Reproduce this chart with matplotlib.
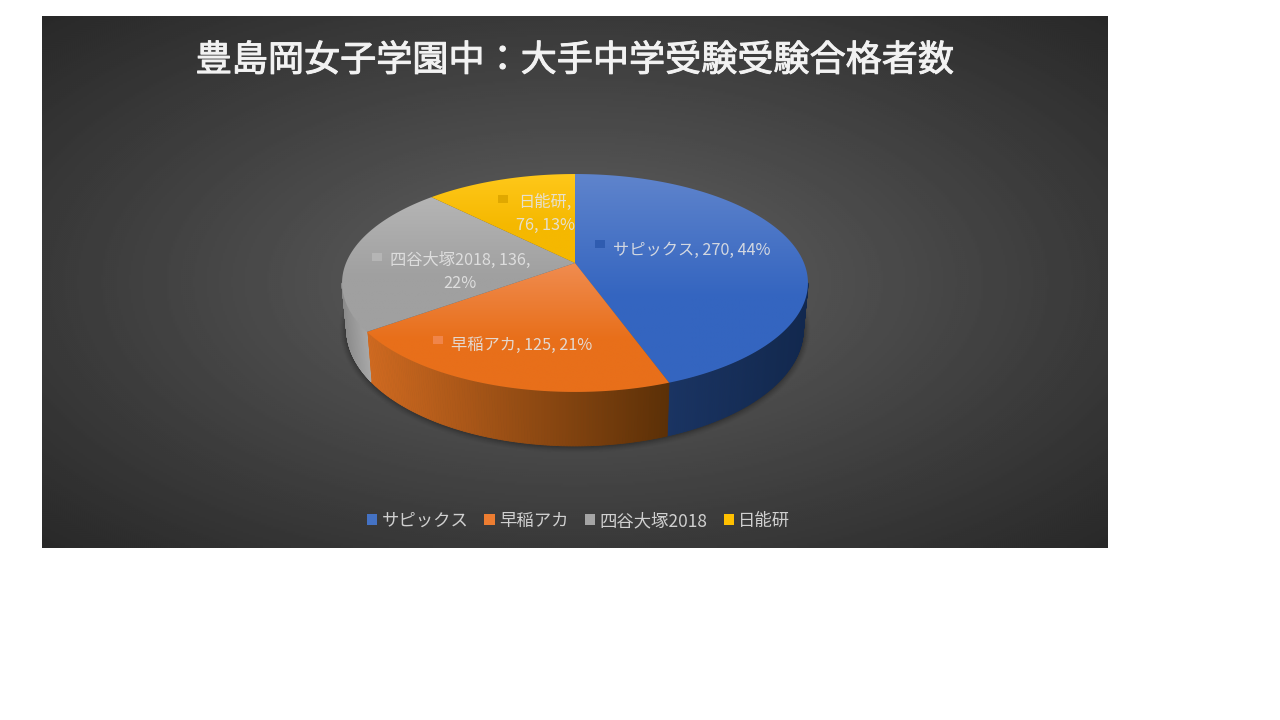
"""
Plots the 3D-looking pie of juku pass counts for Toshimagaoka Joshi Gakuen.
"""


import matplotlib
matplotlib.use('Agg')

import matplotlib.patheffects as path_effects
import matplotlib.pyplot as plt
from matplotlib.patches import Patch, Polygon, Rectangle
import numpy as np


TITLE = '豊島岡女子学園中：大手中学受験受験合格者数'
NAMES = ['サピックス', '早稲アカ', '四谷大塚2018', '日能研']
VALUES = [270, 125, 136, 76]
LABELS = ['サピックス, 270, 44%', '早稲アカ, 125, 21%',
          '四谷大塚2018, 136,\n22%', '日能研,\n76, 13%']

COLORS = ['#4472c4', '#ed7d31', '#a5a5a5', '#ffc000']
TOP_LIGHT = ['#5f84cc', '#f08c50', '#b5b5b5', '#ffc81a']
TOP_DARK = ['#3465c0', '#e86f1a', '#a0a0a0', '#f5b800']
WALL_LEFT = ['#1a3463', '#d06a20', '#8c8c8c', '#c79500']
WALL_RIGHT = ['#12284e', '#5c3007', '#a8a8a8', '#7a5c00']

LABEL_POS = [(692, 250), (522, 345), (460, 272), (545, 214)]
KEY_POS = [(600, 244), (438, 340), (377, 257), (503, 199)]
KEY_COLORS = ['#2f5cb0', '#f0854a', '#b5b5b5', '#e0a800']

# Pie geometry in pixels. The top face is a circle seen in perspective.
CX, CY = 575, 263
A, B, P = 229, 105.3, 0.1834
DEPTH = 54
BOTTOM_WIDTH = .98
DEPTH_SLOPE = .07

FONTS = ['Noto Sans CJK JP', 'DejaVu Sans']


def main():

    plt.rcParams['font.family'] = FONTS

    fig = plt.figure(figsize=(12.8, 7.2), dpi=100)
    ax = fig.add_axes([0, 0, 1, 1])
    ax.set_xlim(0, 1280)
    ax.set_ylim(720, 0)
    ax.axis('off')

    draw_background(ax)
    draw_pie(ax)

    title = ax.text(575, 61, TITLE, color='#f2f2f2', fontsize=26,
                    ha='center', va='center')
    title.set_path_effects([
        path_effects.withStroke(linewidth=.7, foreground='#f2f2f2')])

    for label, pos in zip(LABELS, LABEL_POS):
        ax.text(pos[0], pos[1], label, color='#e4e4e4', fontsize=11.7,
                ha='center', va='center', linespacing=1.45, alpha=.9,
                zorder=5)

    for pos, color in zip(KEY_POS, KEY_COLORS):
        ax.add_patch(Rectangle((pos[0] - 5, pos[1] - 4), 10, 8, color=color,
                               lw=0, zorder=4))

    handles = [Patch(color=c, lw=0) for c in COLORS]
    ax.legend(handles, NAMES, loc='center', bbox_to_anchor=(578.5, 521),
              bbox_transform=ax.transData, ncol=4, frameon=False,
              fontsize=12.5, labelcolor='#d0d0d0', handlelength=.6,
              handleheight=.6, handletextpad=.25, columnspacing=.93)

    fig.savefig('out.png', dpi=100)


def draw_background(ax):

    x0, x1, y0, y1 = 42, 1108, 16, 548
    x, y = np.meshgrid(np.linspace(x0, x1, 533), np.linspace(y0, y1, 266))
    r = np.hypot((x - 575) / 533, (y - 282) / 266) / np.sqrt(2)
    shade = .40 - .24 * np.clip(r, 0, 1) ** .9
    ax.imshow(shade, extent=(x0, x1, y1, y0), cmap='gray', vmin=0, vmax=1,
              aspect='auto', interpolation='bilinear', zorder=0)
    ax.set_xlim(0, 1280)
    ax.set_ylim(720, 0)


def project(angles):
    """Maps clockwise angles from the top of the pie to pixel coordinates."""

    u, v = np.sin(angles), np.cos(angles)
    w = 1 + P * v
    return CX + A * u / w, CY - B * v / w


def project_bottom(x, y):
    """Moves points on the top rim down to the narrower bottom rim."""

    return (CX + (x - CX) * BOTTOM_WIDTH,
            y + DEPTH + DEPTH_SLOPE * (y - 392))


def draw_pie(ax):

    fractions = np.array(VALUES) / sum(VALUES)
    edges = np.concatenate([[0], np.cumsum(fractions)]) * 2 * np.pi

    draw_shadow(ax)

    # Side wall, only the part of the rim that faces the viewer.
    theta = np.linspace(0, 2 * np.pi, 721)
    xs, ys = project(theta)
    right = theta[np.argmax(xs)]
    left = theta[np.argmin(xs)]

    for i in range(len(VALUES)):
        start = max(edges[i], right)
        end = min(edges[i + 1], left)
        if start >= end:
            continue
        draw_wall(ax, start, end, WALL_LEFT[i], WALL_RIGHT[i])

    for i in range(len(VALUES)):
        t = np.linspace(edges[i], edges[i + 1], 200)
        x, y = project(t)
        points = np.column_stack([np.r_[CX, x], np.r_[CY, y]])
        draw_top_face(ax, points, TOP_LIGHT[i], TOP_DARK[i])


def draw_shadow(ax):

    theta = np.linspace(.3 * np.pi, 1.7 * np.pi, 361)
    x, y = project_bottom(*project(theta))
    for width, alpha in zip(range(14, 1, -2), np.linspace(.02, .07, 7)):
        ax.plot(x, y, color='black', lw=width * .72, alpha=alpha,
                zorder=1, solid_joinstyle='round')


def draw_wall(ax, start, end, left_color, right_color):

    left_rgb = np.array(matplotlib.colors.to_rgb(left_color))
    right_rgb = np.array(matplotlib.colors.to_rgb(right_color))

    t = np.linspace(start, end, 120)
    x, y = project(t)
    x_low, y_low = project_bottom(x, y)
    x_min, x_max = x.min(), x.max()

    for j in range(len(t) - 1):
        s = (x[j] - x_min) / (x_max - x_min)
        color = left_rgb + (right_rgb - left_rgb) * s
        quad = [(x[j], y[j]), (x[j + 1], y[j + 1]),
                (x_low[j + 1], y_low[j + 1]), (x_low[j], y_low[j])]
        ax.add_patch(Polygon(quad, closed=True, facecolor=color,
                             edgecolor=color, lw=.6, zorder=2))


def draw_top_face(ax, points, light, dark):

    light = np.array(matplotlib.colors.to_rgb(light))
    dark = np.array(matplotlib.colors.to_rgb(dark))

    s = np.clip(np.linspace(0, 1, 220) * 1.7, 0, 1)[:, None, None]
    gradient = light[None, None, :] * (1 - s) + dark[None, None, :] * s

    x_min, x_max = points[:, 0].min(), points[:, 0].max()
    y_min, y_max = points[:, 1].min(), points[:, 1].max()
    image = ax.imshow(gradient, extent=(x_min, x_max, y_max, y_min),
                      aspect='auto', interpolation='bilinear', zorder=3)
    patch = Polygon(points, closed=True, transform=ax.transData, fc='none',
                    ec='none')
    ax.add_patch(patch)
    image.set_clip_path(patch)
    ax.set_xlim(0, 1280)
    ax.set_ylim(720, 0)


if __name__ == '__main__':
    main()
